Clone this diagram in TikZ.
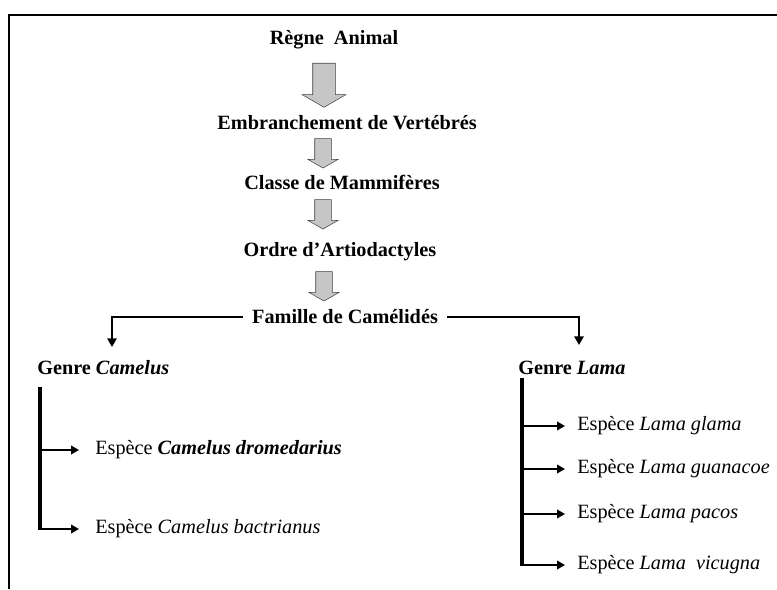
\documentclass[tikz,border=0pt]{standalone}
\usepackage{fontspec}
\setmainfont{Liberation Serif}
\usetikzlibrary{arrows.meta,positioning,shapes.arrows}

\begin{document}
\begin{tikzpicture}[x=0.75pt,y=-0.75pt,
		taxon/.style={font=\fontsize{15.2}{18}\selectfont\bfseries, inner sep=0pt},
		genre/.style={taxon, anchor=west},
		espece/.style={font=\fontsize{15.2}{18}\selectfont, anchor=west, inner sep=0pt},
		bigarrow/.style={single arrow, draw=black!75, fill=gray!45, rotate=-90, inner xsep=0pt, inner ysep=8.25pt,
			single arrow tip angle=120, minimum height=33pt, minimum width=32.25pt, single arrow head extend=7.9pt},
		smallarrow/.style={bigarrow, inner ysep=6pt, minimum height=22pt, minimum width=22.5pt, single arrow head extend=5.2pt},
		link/.style={line width=1.5pt, -{Triangle[length=6.5pt,width=7pt]}},
		trunk/.style={line width=2.6pt},
		twig/.style={line width=1.3pt, -{Triangle[length=6pt,width=6.5pt]}}]
		\useasboundingbox (0,0) rectangle (777,589);
		\draw[line width=1.2pt] (9,589) -- (9,15) -- (777,15);
		% chaine principale
		\node[taxon] (regne) at (334,40) {Règne\ \ Animal};
		\node[taxon] (embr) at (347,123) {Embranchement de Vertébrés};
		\node[taxon] (classe) at (342,182) {Classe de Mammifères};
		\node[taxon] (ordre) at (340,252) {Ordre d’Artiodactyles};
		\node[taxon, inner xsep=6.75pt] (famille) at (345,317) {Famille de Camélidés};
		\node[bigarrow] (f1) at (324,82) {};
		\node[smallarrow] (f2) at (323,151) {};
		\node[smallarrow] (f3) at (323,212) {};
		\node[smallarrow] (f4) at (324,284) {};
		% genres
		\node[genre] (camelus) at (37,368) {Genre \textit{Camelus}};
		\node[genre] (lama) at (518,368) {Genre \textit{Lama}};
		\coordinate (camtop) at (112,347);
		\coordinate (lamtop) at (579,345);
		\draw[link] (famille.west) -| (camtop);
		\draw[link] (famille.east) -| (lamtop);
		% especes de Camelus
		\node[espece] (drom) at (95,450) {Espèce \textbf{\textit{Camelus dromedarius}}};
		\node[espece] (bact) at (95,529) {Espèce \textit{Camelus bactrianus}};
		\draw[trunk] (40,387) coordinate (camA) -- (40,530) coordinate (camB);
		\draw[twig, shorten >=12pt] (camA |- drom.west) -- (drom.west);
		\draw[twig, shorten >=12pt] (camA |- bact.west) -- (bact.west);
		% especes de Lama
		\node[espece] (glama) at (577,426) {Espèce \textit{Lama glama}};
		\node[espece] (guanacoe) at (577,469) {Espèce \textit{Lama guanacoe}};
		\node[espece] (pacos) at (577,514) {Espèce \textit{Lama pacos}};
		\node[espece] (vicugna) at (577,565) {Espèce \textit{Lama\ \ vicugna}};
		\draw[trunk] (522,378) coordinate (lamA) -- (522,566) coordinate (lamB);
		\foreach \sp in {glama,guanacoe,pacos,vicugna}
			\draw[twig, shorten >=9pt] (lamA |- \sp.west) -- (\sp.west);
	\end{tikzpicture}
\end{document}
